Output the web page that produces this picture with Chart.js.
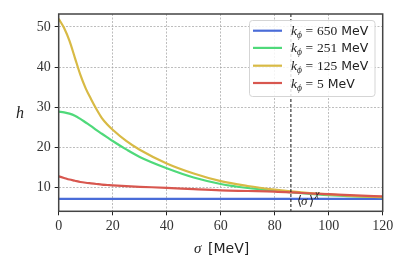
<!DOCTYPE html>
<html><head><meta charset="utf-8">
<script src="https://cdn.jsdelivr.net/npm/chart.js@4/dist/chart.umd.min.js"></script>
<style>html,body{margin:0;padding:0;background:#fff}canvas{display:block}</style>
</head><body>
<canvas id="c" width="407" height="271"></canvas>
<script>
const sigma = [0,2,4,6,8,10,12,14,16,18,20,25,30,40,50,60,70,80,90,100,110,120];
const h650 = [7.2,7.2,7.2,7.2,7.2,7.2,7.2,7.2,7.2,7.2,7.2,7.2,7.2,7.2,7.2,7.2,7.2,7.2,7.2,7.2,7.2,7.2];
const h251 = [28.9,28.7,28.4,27.9,27.1,26.2,25.3,24.3,23.4,22.5,21.6,19.5,17.6,14.8,12.5,10.9,9.9,9.2,8.6,8.1,7.8,7.6];
const h125 = [52.0,49.7,46.5,42.3,38.1,34.7,32.0,29.5,27.3,25.7,24.4,21.6,19.4,16.0,13.5,11.6,10.4,9.5,8.8,8.3,7.9,7.6];
const h5   = [12.8,12.4,12.0,11.7,11.4,11.2,11.05,10.9,10.75,10.65,10.55,10.35,10.2,9.95,9.6,9.3,9.15,9.0,8.65,8.35,8.05,7.8];
const legendValues = ['650','251','125','5'];
const xTicks = [0,20,40,60,80,100,120];
const yTicks = [10,20,30,40,50];
const sigmaChi = 86;

const colors = ['#4a6cd8','#4fd97a','#d8ba45','#d8574f'];
const series = [h650,h251,h125,h5];
const serif = '"Liberation Serif", "DejaVu Serif", serif';
const sans = '"DejaVu Sans", sans-serif';

const datasets = series.map((s,i)=>({
  data: sigma.map((x,j)=>({x:x,y:s[j]})),
  borderColor: colors[i], borderWidth: 2.2, pointRadius: 0,
  cubicInterpolationMode: 'monotone', fill:false, order: 4-i
}));

const deco = {
  id:'deco',
  afterDatasetsDraw(chart){
    const ctx = chart.ctx, a = chart.chartArea, xs = chart.scales.x, ys = chart.scales.y;
    ctx.save();
    // vertical dashed line
    const vx = xs.getPixelForValue(sigmaChi);
    ctx.strokeStyle = '#111'; ctx.lineWidth = 1; ctx.setLineDash([3,2]);
    ctx.beginPath(); ctx.moveTo(vx, a.top); ctx.lineTo(vx, a.bottom); ctx.stroke();
    ctx.setLineDash([]);
    // annotation
    ctx.fillStyle = '#222'; ctx.textBaseline = 'alphabetic'; ctx.textAlign='left';
    ctx.font = '13px ' + serif;
    ctx.fillText('\u27E8', vx+6, 205);
    ctx.font = 'italic 13px ' + serif;
    ctx.fillText('\u03C3', vx+10, 205);
    ctx.font = '13px ' + serif;
    ctx.fillText('\u27E9', vx+18, 205);
    ctx.font = 'italic 10px ' + serif;
    ctx.fillText('\u03C7', vx+24, 197);
    // frame
    ctx.strokeStyle = '#444'; ctx.lineWidth = 1.5;
    ctx.strokeRect(a.left, a.top, a.right-a.left, a.bottom-a.top);
    // legend
    const lx = 249.5, ly = 20.5, lw = 125.5, lh = 76;
    ctx.fillStyle = 'rgba(255,255,255,0.85)';
    ctx.strokeStyle = '#d5d5d5'; ctx.lineWidth = 1;
    ctx.beginPath();
    if (ctx.roundRect) ctx.roundRect(lx, ly, lw, lh, 3); else ctx.rect(lx,ly,lw,lh);
    ctx.fill(); ctx.stroke();
    const rows = [30.7, 47.9, 65.7, 83];
    rows.forEach((ry,i)=>{
      ctx.strokeStyle = colors[i]; ctx.lineWidth = 2.2;
      ctx.beginPath(); ctx.moveTo(253, ry); ctx.lineTo(282, ry); ctx.stroke();
      ctx.fillStyle = '#222';
      let x = 291; const base = ry + 4.5;
      ctx.font = 'italic 13.5px ' + serif; ctx.fillText('k', x, base); x += ctx.measureText('k').width;
      ctx.font = 'italic 9.5px ' + serif; ctx.fillText('\u03D5', x, base+3); x += ctx.measureText('\u03D5').width + 3.5;
      ctx.font = '13.5px ' + serif; ctx.fillText('=', x, base); x += ctx.measureText('=').width + 4;
      ctx.fillText(legendValues[i], x, base); x += ctx.measureText(legendValues[i]).width + 4;
      ctx.font = '12.5px ' + sans; ctx.fillText('MeV', x, base);
    });
    // axis titles
    ctx.fillStyle = '#222';
    ctx.font = 'italic 16px ' + serif; ctx.textAlign = 'center';
    ctx.fillText('h', 20, 118);
    ctx.textAlign = 'left';
    ctx.font = 'italic 15px ' + serif; ctx.fillText('\u03C3', 194, 253);
    ctx.font = '14px ' + sans; ctx.fillText('[MeV]', 208, 253);
    ctx.restore();
  }
};

new Chart(document.getElementById('c'), {
  type:'line',
  data:{datasets},
  options:{
    responsive:false, animation:false, devicePixelRatio:1,
    layout:{padding:{left:0,right:24.3,top:14,bottom:0}},
    plugins:{legend:{display:false}, tooltip:{enabled:false}},
    scales:{
      x:{type:'linear', min:0, max:120,
        afterBuildTicks(s){ s.ticks = xTicks.map(v=>({value:v})); },
        afterFit(s){ s.height = 59.7; },
        grid:{color:'#a0a0a0', lineWidth:0.7, tickLength:4, tickColor:'#222', tickWidth:1, tickBorderDash:[]},
        border:{display:false, dash:[2,1.5]},
        ticks:{color:'#333', font:{family:serif, size:14}, padding:3, maxRotation:0}
      },
      y:{type:'linear', min:4.1, max:53.2,
        afterBuildTicks(s){ s.ticks = yTicks.map(v=>({value:v})); },
        afterFit(s){ s.width = 58.7; },
        grid:{color:'#a0a0a0', lineWidth:0.7, tickLength:4, tickColor:'#222', tickWidth:1, tickBorderDash:[]},
        border:{display:false, dash:[2,1.5]},
        ticks:{color:'#333', font:{family:serif, size:14}, padding:4}
      }
    }
  },
  plugins:[deco]
});
</script>
</body></html>
